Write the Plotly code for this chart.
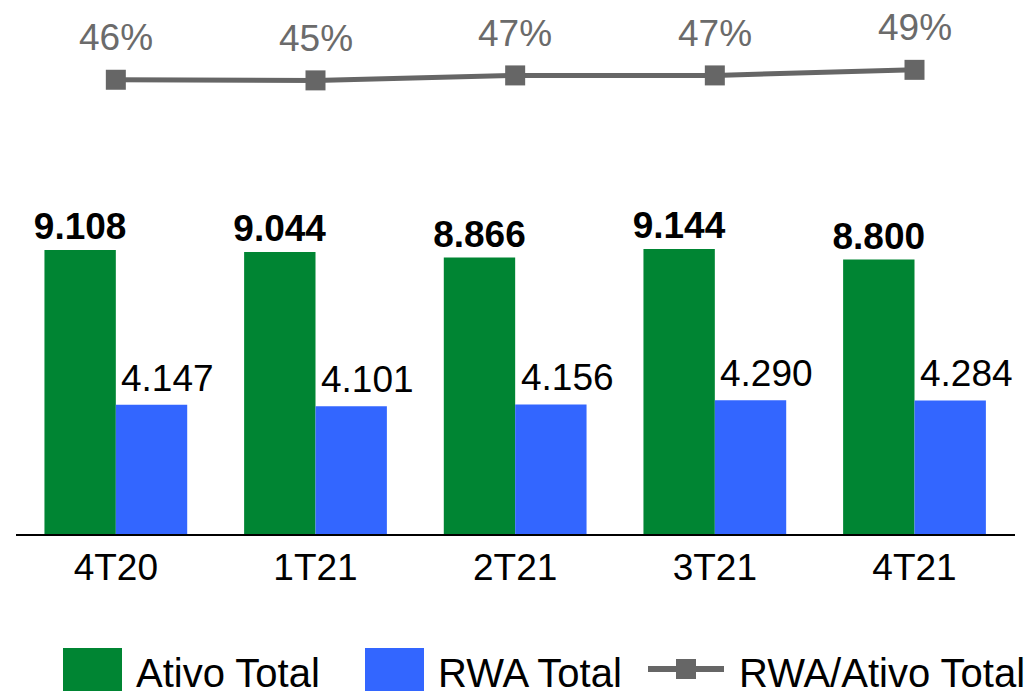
import plotly.graph_objects as go

categories = ["4T20", "1T21", "2T21", "3T21", "4T21"]
ativo_total = [9108, 9044, 8866, 9144, 8800]
rwa_total = [4147, 4101, 4156, 4290, 4284]
rwa_ativo_pct = [45.5, 45.3, 46.9, 46.9, 48.7]

GREEN = "#008533"
BLUE = "#3366FF"
GRAY = "#666666"
FONT = "Liberation Sans, Arial"

# the page body keeps its default 8px margin, so the figure is drawn 8px in
OFF = 8
W, H = 1035 - OFF, 691 - OFF
L, R, T, B = 16 - OFF, 20, 10 - OFF, 157


def px(x):
    return (x - OFF - L) / (W - L - R)


def py(y):
    return (H - B - (y - OFF)) / (H - T - B)


def fmt(v):
    return f"{v:,}".replace(",", ".")


fig = go.Figure()

fig.add_trace(go.Bar(
    x=categories, y=ativo_total, name="Ativo Total",
    marker=dict(color=GREEN, line=dict(width=0)),
    text=[f"<b>{fmt(v)}</b>" for v in ativo_total],
    textposition="outside", cliponaxis=False, constraintext="none",
    textfont=dict(family=FONT, size=37, color="black"),
))
fig.add_trace(go.Bar(
    x=categories, y=rwa_total, name="RWA Total",
    marker=dict(color=BLUE, line=dict(width=0)),
))
fig.add_trace(go.Scatter(
    x=categories, y=rwa_ativo_pct, name="RWA/Ativo Total", yaxis="y2",
    mode="lines+markers",
    line=dict(color=GRAY, width=5),
    marker=dict(symbol="square", size=20, color=GRAY),
    cliponaxis=False,
))

annotations = []
# RWA labels sit a little right of their bars in the source
for cat, v in zip(categories, rwa_total):
    annotations.append(dict(
        x=cat, y=v, xref="x", yref="y", text=fmt(v),
        showarrow=False, yanchor="bottom", xshift=52, yshift=4,
        font=dict(family=FONT, size=37, color="black"),
    ))
for cat, v in zip(categories, rwa_ativo_pct):
    annotations.append(dict(
        x=cat, y=v, xref="x", yref="y2", text=f"{v:.0f}%",
        showarrow=False, yanchor="middle", yshift=42,
        font=dict(family=FONT, size=37, color="#6b6b6b"),
    ))

# legend drawn by hand so the swatches can be as large as in the source
shapes = [
    dict(type="rect", xref="paper", yref="paper", x0=px(63), x1=px(122),
         y0=py(648), y1=py(700), fillcolor=GREEN, line=dict(width=0)),
    dict(type="rect", xref="paper", yref="paper", x0=px(365), x1=px(424),
         y0=py(648), y1=py(700), fillcolor=BLUE, line=dict(width=0)),
    dict(type="line", xref="paper", yref="paper", x0=px(648), x1=px(724),
         y0=py(669), y1=py(669), line=dict(color=GRAY, width=6)),
    dict(type="rect", xref="paper", yref="paper", x0=px(676), x1=px(696),
         y0=py(659), y1=py(679), fillcolor=GRAY, line=dict(width=0)),
]
for label, x0 in [("Ativo Total", 134), ("RWA Total", 436), ("RWA/Ativo Total", 737)]:
    annotations.append(dict(
        text=label, xref="paper", yref="paper", x=px(x0), y=py(673),
        xanchor="left", yanchor="middle", showarrow=False,
        font=dict(family=FONT, size=40, color="black"),
    ))

fig.update_layout(
    width=W, height=H,
    margin=dict(l=L, r=R, t=T, b=B),
    paper_bgcolor="white", plot_bgcolor="white",
    barmode="group", bargap=0.285, bargroupgap=0,
    showlegend=False,
    xaxis=dict(
        type="category", showline=True, linecolor="black", linewidth=2,
        ticks="", showgrid=False,
        tickfont=dict(family=FONT, size=37, color="black"),
    ),
    yaxis=dict(range=[0, 16805], visible=False, showgrid=False),
    yaxis2=dict(range=[-101, 68], overlaying="y", visible=False, showgrid=False),
    shapes=shapes,
    annotations=annotations,
)

fig.write_html("out.html")
